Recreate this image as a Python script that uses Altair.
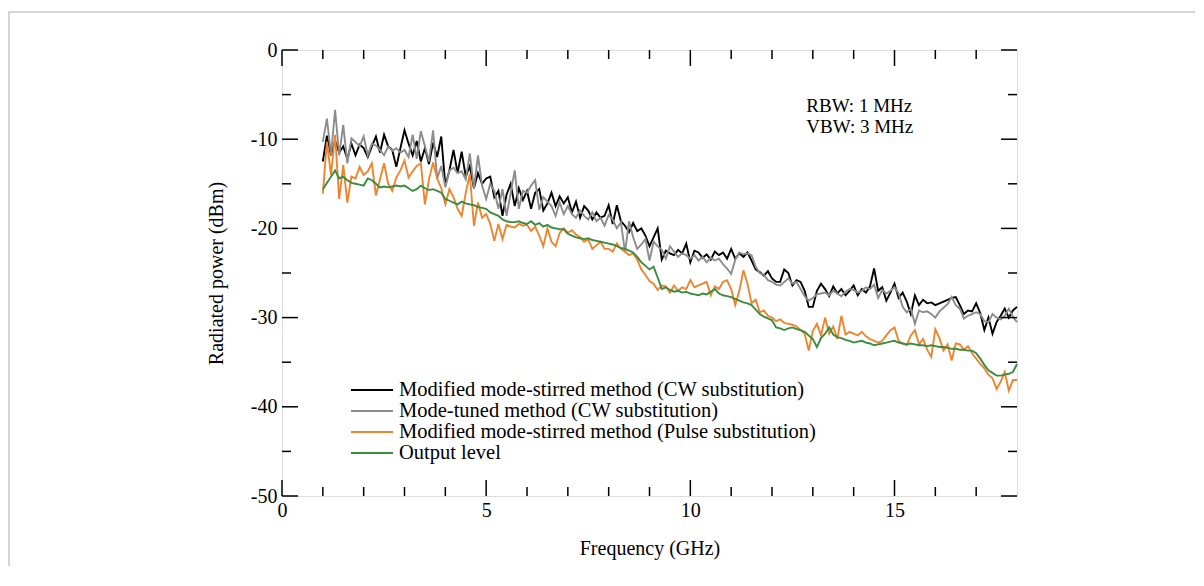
import altair as alt
import pandas as pd

FONT = "Liberation Serif"

# Frequency grid of the sweep (GHz)
freq_start = 1.0
freq_step = 0.1

# Radiated power readings (dBm), one value per 0.1 GHz from 1.0 to 18.0 GHz
mms_cw = [
    -12.5, -9.6, -11.8, -10.2, -11.5, -10.8, -12.2, -10.5, -11.8, -10.6,
    -11.0, -12.0, -10.8, -9.7, -11.5, -9.5, -10.8, -11.2, -13.1, -11.0,
    -9.0, -10.5, -11.8, -10.2, -12.5, -11.0, -12.8, -10.4, -12.0, -9.7,
    -15.2, -13.5, -11.2, -13.8, -11.4, -14.2, -13.0, -15.5, -13.8, -15.0,
    -14.4, -14.2, -16.5, -15.8, -18.6, -16.2, -15.0, -17.5, -15.5, -16.8,
    -15.8, -17.8, -16.0, -15.6, -18.0, -17.2, -16.0, -17.5, -16.4, -17.2,
    -16.5, -18.2, -17.0, -18.8, -17.5, -18.0, -19.0, -18.2, -18.8, -18.6,
    -17.4, -19.5, -17.4, -19.2, -19.7, -20.4, -19.4, -20.3, -20.0, -20.8,
    -22.0, -21.0, -20.0, -23.5, -22.5, -22.8, -23.0, -22.4, -22.8, -21.7,
    -23.8, -22.5, -22.7, -23.3, -22.9, -23.5, -22.6, -23.0, -22.7, -23.4,
    -22.3, -23.4, -22.8, -23.2, -22.7, -23.6, -24.6, -24.9, -25.3, -24.8,
    -25.6, -26.0, -26.0, -24.6, -25.0, -26.4, -25.8, -26.0, -27.0, -28.8,
    -28.8, -27.0, -26.2, -26.8, -27.6, -26.5, -27.3, -26.8, -27.5, -27.0,
    -26.4, -27.5, -26.8, -27.2, -26.5, -24.5, -27.0, -26.6, -28.1, -27.2,
    -26.2, -27.8, -27.2, -28.2, -29.6, -27.5, -28.6, -28.0, -28.4, -28.3,
    -28.6, -28.4, -28.2, -28.0, -27.8, -27.7, -28.6, -29.6, -29.2, -29.3,
    -28.4, -29.5, -31.4, -30.0, -31.8, -30.5, -29.8, -29.0, -30.0, -29.2,
    -28.8,
]

mt_cw = [
    -10.3, -7.7, -11.8, -6.7, -11.8, -8.4, -12.7, -9.9, -10.3, -10.8,
    -9.7, -11.8, -10.5, -10.7, -11.2, -11.8, -10.8, -11.3, -11.0, -11.5,
    -11.2, -12.0, -9.5, -12.2, -9.1, -10.8, -12.5, -9.0, -14.4, -13.0,
    -15.4, -13.5, -13.2, -13.8, -13.6, -14.5, -11.6, -15.5, -11.8, -15.2,
    -16.7, -15.0, -15.8, -17.8, -15.6, -18.6, -16.0, -13.5, -17.8, -15.8,
    -16.0, -15.2, -14.6, -17.9, -16.5, -17.0, -17.5, -18.6, -17.1, -18.4,
    -17.5, -18.4, -18.8, -18.0, -18.6, -19.0, -18.2, -19.2, -18.8, -19.7,
    -18.5, -19.0, -20.0, -19.3, -22.7, -19.2, -21.0, -22.3, -21.8, -21.2,
    -23.6, -21.5, -22.0, -22.4, -23.4, -22.0, -22.6, -23.2, -22.8, -23.0,
    -23.4, -23.0, -23.6, -23.2, -23.8, -23.3, -23.6, -23.4, -24.0, -24.5,
    -25.1, -23.5, -22.7, -22.9, -22.8, -23.0, -24.3, -25.0, -25.2, -25.8,
    -26.0, -26.3, -26.4, -26.0, -25.6, -26.2, -26.0, -26.8, -27.6, -28.1,
    -27.8, -27.4, -27.3, -27.2, -27.5, -27.0, -27.3, -27.6, -27.1, -26.8,
    -26.9, -27.2, -27.0, -26.6, -26.8, -26.3, -27.8, -26.9, -27.3, -27.0,
    -26.6, -27.3, -28.8, -29.4, -29.0, -30.7, -29.2, -29.4, -29.3, -29.6,
    -30.0, -29.3, -28.9, -28.5, -27.7, -28.6, -29.0, -30.1, -29.8, -29.6,
    -29.4, -29.6, -30.4, -30.5, -29.6, -30.0, -30.2, -29.8, -29.0, -29.9,
    -30.5,
]

mms_pulse = [
    -16.1, -10.3, -14.0, -9.5, -16.7, -12.9, -17.1, -14.2, -14.4, -13.1,
    -14.0, -13.6, -12.7, -16.3, -14.5, -12.7, -15.0, -15.8, -14.3, -13.5,
    -12.4, -14.3, -13.6, -13.0, -12.7, -17.3, -14.5, -12.6, -14.4, -15.5,
    -17.3, -15.6, -16.5, -17.8, -18.6, -16.0, -13.9, -19.7, -17.1, -18.8,
    -18.4, -19.5, -21.4, -19.5, -21.2, -19.6, -19.8, -19.9, -19.5, -19.7,
    -19.6, -20.3, -19.8, -20.8, -22.0, -20.0, -21.5, -22.0, -20.5, -20.0,
    -20.5, -20.2, -20.7, -21.0, -21.5, -21.2, -22.3, -21.9, -21.5, -22.3,
    -22.3, -22.6, -21.7, -22.3, -22.6, -23.0, -22.8, -23.5, -24.6, -25.2,
    -25.9, -26.2, -26.9, -26.4, -26.5, -27.2, -26.4, -27.0, -26.6, -26.8,
    -25.8, -26.6, -26.4, -26.2, -26.0, -27.5, -26.5, -26.8, -26.0, -25.8,
    -26.8, -28.6, -27.0, -24.7, -26.2, -28.4, -28.0, -29.4, -29.2, -29.8,
    -30.0, -30.4, -30.2, -30.6, -30.7, -30.8, -31.0, -31.4, -31.8, -33.7,
    -31.5, -30.7, -32.0, -30.0, -31.8, -31.0, -32.4, -29.8, -31.9, -31.6,
    -31.8, -32.0, -31.6, -32.1, -32.4, -32.6, -32.8, -32.6, -32.0, -31.4,
    -31.1, -32.6, -32.9, -33.1, -32.0, -31.4, -33.0, -32.4, -33.6, -34.4,
    -31.3, -32.3, -33.7, -33.0, -34.8, -32.9, -33.0, -33.6, -33.2, -34.0,
    -34.6, -35.2, -35.7, -36.4, -36.8, -38.0, -37.2, -36.1, -38.2, -37.0,
    -37.0,
]

output_level = [
    -15.6, -14.9, -14.2, -13.5, -14.4, -14.2, -14.6, -14.9, -15.0, -15.1,
    -15.2, -14.4, -14.6, -15.0, -15.4, -15.3, -15.4, -15.3, -15.2, -15.3,
    -15.2, -15.5, -15.8, -15.6, -15.2, -15.5, -15.7, -15.6, -15.8, -16.0,
    -16.7, -16.9, -17.1, -17.3, -17.0, -17.2, -17.3, -17.4, -17.6, -17.7,
    -17.8, -18.2, -18.4, -18.6, -19.0, -19.2, -19.3, -19.3, -19.2, -19.4,
    -19.5, -19.2, -19.6, -19.4, -19.8, -19.6, -19.9, -20.0, -20.1, -20.1,
    -20.6, -20.8, -21.0, -21.1, -21.2, -21.1, -21.3, -21.4, -21.5, -21.6,
    -21.7, -21.8, -22.0, -22.2, -22.3, -22.5, -22.7, -23.2, -23.8, -24.2,
    -24.6, -24.3, -25.5, -26.8, -26.6, -26.9, -27.1, -27.0, -27.2, -27.1,
    -27.3, -27.4, -27.5, -27.3, -27.4, -27.1, -26.8, -27.3, -27.5, -27.6,
    -27.7, -27.9, -28.1, -28.3, -28.4, -28.6, -29.1, -29.6, -29.9, -30.1,
    -30.3, -31.1, -31.2, -31.4, -31.2, -31.1, -31.3, -31.4, -31.6, -32.0,
    -32.4, -33.3, -32.3, -31.8, -31.1, -31.9, -32.2, -32.3, -32.5, -32.6,
    -32.8, -32.7, -32.6, -32.8, -32.9, -33.1, -33.0, -32.9, -32.8, -32.7,
    -32.6, -32.8, -32.9, -33.0, -32.9, -33.0, -33.1, -33.1, -33.2, -33.1,
    -33.2, -33.3, -33.3, -33.4, -33.5, -33.5, -33.6, -33.6, -33.7, -33.7,
    -34.0, -34.6, -35.3, -35.9, -36.2, -36.5, -36.5, -36.4, -36.3, -36.1,
    -35.2,
]

series_names = [
    "Modified mode-stirred method (CW substitution)",
    "Mode-tuned method (CW substitution)",
    "Modified mode-stirred method (Pulse substitution)",
    "Output level",
]
series_colors = ["#000000", "#8c8c8c", "#f0842e", "#3a8c3e"]
series_values = [mms_cw, mt_cw, mms_pulse, output_level]

x_major = [0, 5, 10, 15]
x_minor = [1, 2, 3, 4, 6, 7, 8, 9, 11, 12, 13, 14, 16, 17]
y_major = [-50, -40, -30, -20, -10, 0]
y_minor = [-45, -35, -25, -15, -5]

annot_text = ["RBW: 1 MHz", "VBW: 3 MHz"]
annot_x = [12.84, 12.84]
annot_y = [-6.9, -9.25]

rows = []
for name, vals in zip(series_names, series_values):
    for i, v in enumerate(vals):
        rows.append({"series": name, "idx": i,
                     "freq": round(freq_start + i * freq_step, 2), "power": v})
df = pd.DataFrame(rows)

W, H = 735, 446
MAJ, MIN = 16, 9

xscale = alt.Scale(domain=[0, 18], nice=False, zero=False)
yscale = alt.Scale(domain=[-50, 0], nice=False)

x_axis = alt.Axis(values=x_major, title="Frequency (GHz)", grid=False, domain=False,
                  ticks=False, tickSize=0, labelFont=FONT, labelFontSize=20,
                  labelColor="black", labelPadding=4, titleFont=FONT,
                  titleFontSize=20, titleFontWeight="normal", titleColor="black",
                  titlePadding=18, labelFlush=False)
y_axis = alt.Axis(values=y_major, title="Radiated power (dBm)", grid=False, domain=False,
                  ticks=False, tickSize=0, labelFont=FONT, labelFontSize=20,
                  labelColor="black", labelPadding=5, titleFont=FONT,
                  titleFontSize=20, titleFontWeight="normal", titleColor="black",
                  titlePadding=24, labelExpr="toString(datum.value)")

X = lambda f: alt.X(f, scale=xscale, axis=x_axis)
Y = lambda f: alt.Y(f, scale=yscale, axis=y_axis)

lines = alt.Chart(df).mark_line(strokeWidth=1.9).encode(
    x=X("freq:Q"),
    y=Y("power:Q"),
    color=alt.Color(
        "series:N",
        sort=series_names,
        scale=alt.Scale(domain=series_names, range=series_colors),
        legend=alt.Legend(
            title=None, orient="none", legendX=68, legendY=330,
            symbolType="stroke", symbolSize=1764, symbolStrokeWidth=2,
            labelFont=FONT, labelFontSize=20.5, labelColor="black",
            labelOffset=5, labelLimit=800, padding=0, rowPadding=0,
            clipHeight=20,
        ),
    ),
    order="idx:Q",
)


def xticks(vals, length):
    d = pd.DataFrame({"v": vals})
    b = alt.Chart(d).mark_rule(color="black", strokeWidth=1.5)
    return [
        b.encode(x=X("v:Q"), y=alt.value(H), y2=alt.value(H - length)),
        b.encode(x=X("v:Q"), y=alt.value(0), y2=alt.value(length)),
    ]


def yticks(vals, length):
    d = pd.DataFrame({"v": vals})
    b = alt.Chart(d).mark_rule(color="black", strokeWidth=1.5)
    return [
        b.encode(y=Y("v:Q"), x=alt.value(0), x2=alt.value(length)),
        b.encode(y=Y("v:Q"), x=alt.value(W), x2=alt.value(W - length)),
    ]


tick_layers = (xticks(x_major, MAJ) + xticks(x_minor, MIN)
               + yticks(y_major, MAJ) + yticks(y_minor, MIN))

annot = alt.Chart(pd.DataFrame({"t": annot_text, "x": annot_x, "y": annot_y})).mark_text(
    align="left", baseline="alphabetic", font=FONT, fontSize=19, color="black"
).encode(x=X("x:Q"), y=Y("y:Q"), text="t:N")

frame = alt.Chart(pd.DataFrame({"a": [0]})).mark_rect(
    fill="transparent", stroke="#c8c8c8", strokeWidth=1.5
).encode(x=alt.value(-273), x2=alt.value(W + 300), y=alt.value(-38), y2=alt.value(H + 200))

chart = alt.layer(frame, lines, *tick_layers, annot).properties(
    width=W, height=H,
    padding={"left": 274, "top": 42, "right": 178, "bottom": 70},
    autosize=alt.AutoSizeParams(type="none"),
).configure_view(stroke="black", strokeWidth=2).configure(background="white")

chart.save("out.html", embed_options={"renderer": "svg", "actions": False})
